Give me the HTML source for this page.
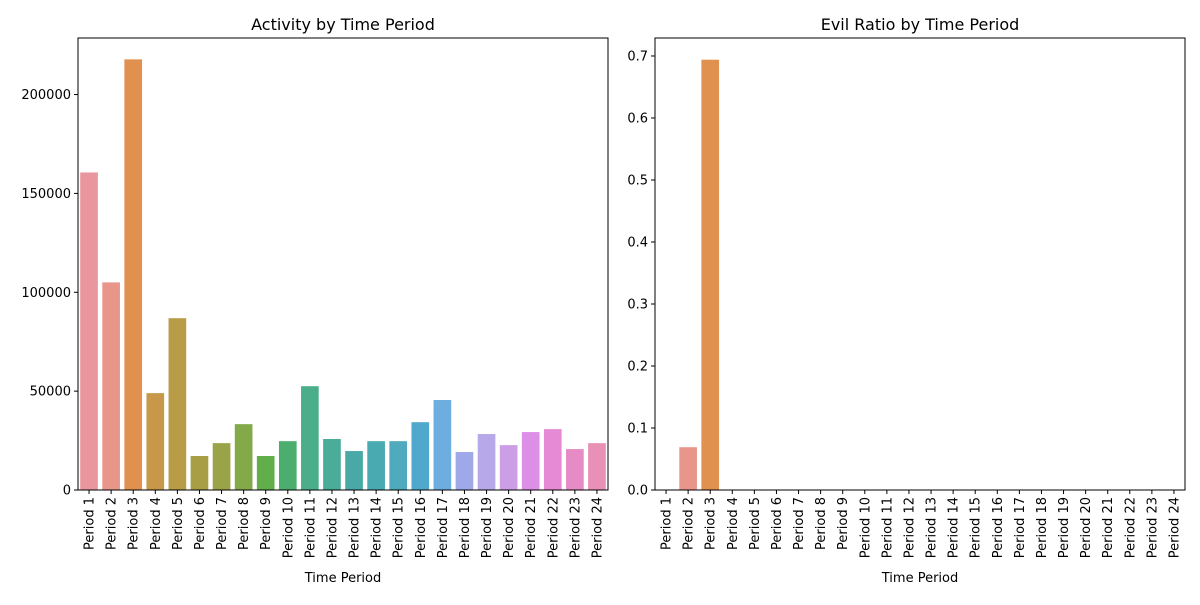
<!DOCTYPE html>
<html><head><meta charset="utf-8"><style>body{margin:0;background:#fff}svg text{font-family:"DejaVu Sans","Liberation Sans",sans-serif;fill:#000}</style></head>
<body>
<svg id="c" width="1200" height="600"></svg>
<script>
const categories=["Period 1","Period 2","Period 3","Period 4","Period 5","Period 6","Period 7","Period 8","Period 9","Period 10","Period 11","Period 12","Period 13","Period 14","Period 15","Period 16","Period 17","Period 18","Period 19","Period 20","Period 21","Period 22","Period 23","Period 24"];
const activity=[160600,105000,217800,49000,86900,17200,23700,33300,17200,24700,52500,25800,19700,24700,24700,34300,45500,19200,28300,22700,29300,30800,20700,23700];
const evilRatio=[0,0.069,0.694,0,0,0,0,0,0,0,0,0,0,0,0,0,0,0,0,0,0,0,0,0];
const leftTicks=[0,50000,100000,150000,200000];
const rightTicks=[0,0.1,0.2,0.3,0.4,0.5,0.6,0.7];
const colors=["#e9969e","#e8968a","#e1914f","#c8984a","#b89c48","#a89e46","#9ba348","#84a948","#62ae4a","#4bae6e","#4aae8a","#4aad9a","#4aa8a6","#4aaab2","#4eaabc","#50a8cc","#6caee0","#9fa8e8","#b7a8ea","#cb9ee6","#dd8ee6","#e68ad6","#e68bc4","#e890b6"];
const NS="http://www.w3.org/2000/svg";
const svg=document.getElementById('c');
function mk(t,a,p){const e=document.createElementNS(NS,t);for(const k in a)e.setAttribute(k,a[k]);(p||svg).appendChild(e);return e;}
function panel(x0,x1,y0,y1,vals,ymax,ticks,fmt,title,name){
  const g=mk('g',{});
  
  
  const n=categories.length,slot=(x1-x0)/n;
  const ys=v=>y1-(v/ymax)*(y1-y0);
  vals.forEach((v,i)=>{const r=mk('rect',{x:x0+slot*i+slot*0.1,y:ys(v),width:slot*0.8,height:y1-ys(v),fill:colors[i]},g);
    
    });
  mk('rect',{x:x0,y:y0,width:x1-x0,height:y1-y0,fill:'none',stroke:'#000','stroke-width':1},g);
  ticks.forEach(t=>{const y=ys(t);mk('line',{x1:x0-4,x2:x0,y1:y,y2:y,stroke:'#000'},g);
    const tx=mk('text',{x:x0-7,y:y+4.5,'text-anchor':'end','font-size':13},g);tx.textContent=fmt(t);
    
    });
  categories.forEach((c,i)=>{const x=x0+slot*(i+0.5);mk('line',{x1:x,x2:x,y1:y1,y2:y1+4,stroke:'#000'},g);
    const tx=mk('text',{x:x+4.5,y:y1+7,'text-anchor':'end','font-size':13,transform:`rotate(-90 ${x+4.5} ${y1+7})`},g);tx.textContent=c;
    
    });
  const tt=mk('text',{x:(x0+x1)/2,y:y0-8,'text-anchor':'middle','font-size':16},g);tt.textContent=title;
  
  
  const xl=mk('text',{x:(x0+x1)/2,y:582,'text-anchor':'middle','font-size':13},g);xl.textContent='Time Period';
  
  
}
panel(78,608,38,490,activity,228600,leftTicks,t=>String(t),'Activity by Time Period','activity-panel');
panel(655,1185,38,490,evilRatio,0.729,rightTicks,t=>t.toFixed(1),'Evil Ratio by Time Period','evil-ratio-panel');
</script>
</body></html>
